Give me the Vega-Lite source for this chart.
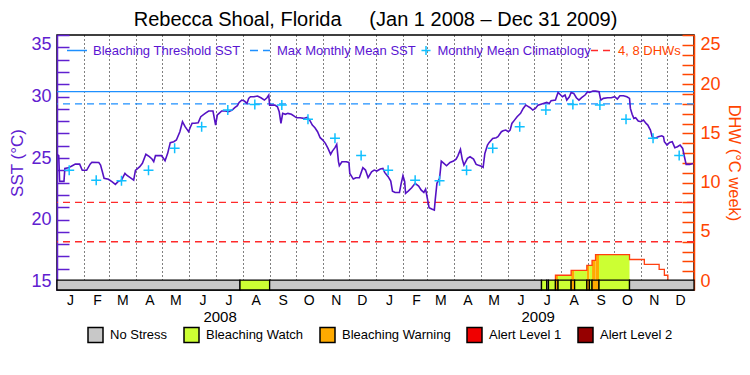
{
  "$schema": "https://vega.github.io/schema/vega-lite/v6.json",
  "width": 637,
  "height": 255,
  "autosize": {"type": "none"},
  "padding": {"left": 57, "top": 35, "right": 56, "bottom": 85},
  "background": "white",
  "config": {
    "font": "Liberation Sans",
    "view": {"stroke": "black", "strokeWidth": 1.5},
    "axis": {"labelFont": "Liberation Sans", "titleFont": "Liberation Sans"},
    "legend": {"labelFont": "Liberation Sans"}
  },
  "title": {
    "text": "Rebecca Shoal, Florida\u00a0\u00a0\u00a0\u00a0\u00a0(Jan 1 2008 – Dec 31 2009)",
    "fontSize": 20,
    "fontWeight": "normal",
    "color": "black",
    "offset": 4,
    "anchor": "middle",
    "frame": "group"
  },
  "datasets": {
    "sst": [
      {"date": "2008-01-01", "sst": 25.3}, {"date": "2008-01-03", "sst": 25.2}, {"date": "2008-01-04", "sst": 23.1},
      {"date": "2008-01-09", "sst": 23.1}, {"date": "2008-01-10", "sst": 24.16}, {"date": "2008-01-14", "sst": 24.2},
      {"date": "2008-01-18", "sst": 24.35}, {"date": "2008-01-22", "sst": 24.5}, {"date": "2008-01-27", "sst": 24.5},
      {"date": "2008-01-30", "sst": 24.0}, {"date": "2008-02-04", "sst": 24.0}, {"date": "2008-02-08", "sst": 24.5},
      {"date": "2008-02-10", "sst": 24.65}, {"date": "2008-02-18", "sst": 24.63}, {"date": "2008-02-20", "sst": 24.43},
      {"date": "2008-02-22", "sst": 23.9}, {"date": "2008-02-24", "sst": 23.35}, {"date": "2008-02-29", "sst": 23.27},
      {"date": "2008-03-04", "sst": 23.08}, {"date": "2008-03-08", "sst": 22.86}, {"date": "2008-03-11", "sst": 23.08},
      {"date": "2008-03-15", "sst": 23.2}, {"date": "2008-03-19", "sst": 23.75}, {"date": "2008-03-21", "sst": 23.6},
      {"date": "2008-03-25", "sst": 23.4}, {"date": "2008-03-29", "sst": 23.2}, {"date": "2008-03-31", "sst": 24.0},
      {"date": "2008-04-05", "sst": 24.3}, {"date": "2008-04-08", "sst": 24.57}, {"date": "2008-04-12", "sst": 25.3},
      {"date": "2008-04-16", "sst": 25.11}, {"date": "2008-04-19", "sst": 24.92}, {"date": "2008-04-21", "sst": 24.7},
      {"date": "2008-04-23", "sst": 25.19}, {"date": "2008-04-30", "sst": 25.19}, {"date": "2008-05-04", "sst": 24.78},
      {"date": "2008-05-07", "sst": 25.38}, {"date": "2008-05-10", "sst": 26.25}, {"date": "2008-05-14", "sst": 26.33},
      {"date": "2008-05-17", "sst": 26.46}, {"date": "2008-05-21", "sst": 27.14}, {"date": "2008-05-24", "sst": 27.95},
      {"date": "2008-05-27", "sst": 27.55}, {"date": "2008-05-31", "sst": 27.14}, {"date": "2008-06-02", "sst": 27.5},
      {"date": "2008-06-04", "sst": 27.82}, {"date": "2008-06-07", "sst": 27.82}, {"date": "2008-06-11", "sst": 27.87},
      {"date": "2008-06-14", "sst": 28.36}, {"date": "2008-06-19", "sst": 28.63}, {"date": "2008-06-23", "sst": 28.82},
      {"date": "2008-06-28", "sst": 28.82}, {"date": "2008-07-01", "sst": 27.68}, {"date": "2008-07-03", "sst": 28.5},
      {"date": "2008-07-05", "sst": 28.63}, {"date": "2008-07-08", "sst": 28.82}, {"date": "2008-07-12", "sst": 28.82},
      {"date": "2008-07-16", "sst": 28.76}, {"date": "2008-07-20", "sst": 28.9}, {"date": "2008-07-23", "sst": 29.09},
      {"date": "2008-07-26", "sst": 29.25}, {"date": "2008-07-28", "sst": 29.52}, {"date": "2008-07-31", "sst": 29.71},
      {"date": "2008-08-03", "sst": 29.63}, {"date": "2008-08-06", "sst": 29.44}, {"date": "2008-08-08", "sst": 29.85},
      {"date": "2008-08-10", "sst": 29.98}, {"date": "2008-08-14", "sst": 29.98}, {"date": "2008-08-18", "sst": 30.04},
      {"date": "2008-08-22", "sst": 29.9}, {"date": "2008-08-26", "sst": 29.71}, {"date": "2008-08-29", "sst": 29.9},
      {"date": "2008-08-31", "sst": 30.12}, {"date": "2008-09-01", "sst": 29.3}, {"date": "2008-09-07", "sst": 29.3},
      {"date": "2008-09-10", "sst": 29.17}, {"date": "2008-09-12", "sst": 28.76}, {"date": "2008-09-14", "sst": 27.81},
      {"date": "2008-09-16", "sst": 28.63}, {"date": "2008-09-19", "sst": 28.55}, {"date": "2008-09-22", "sst": 28.63},
      {"date": "2008-09-26", "sst": 28.55}, {"date": "2008-09-30", "sst": 28.36}, {"date": "2008-10-02", "sst": 28.27},
      {"date": "2008-10-06", "sst": 28.27}, {"date": "2008-10-10", "sst": 28.22}, {"date": "2008-10-14", "sst": 28.3},
      {"date": "2008-10-17", "sst": 28.08}, {"date": "2008-10-20", "sst": 27.68}, {"date": "2008-10-23", "sst": 27.46},
      {"date": "2008-10-26", "sst": 27.14}, {"date": "2008-10-29", "sst": 26.65}, {"date": "2008-11-01", "sst": 26.46},
      {"date": "2008-11-04", "sst": 26.19}, {"date": "2008-11-07", "sst": 25.78}, {"date": "2008-11-10", "sst": 25.29},
      {"date": "2008-11-12", "sst": 25.56}, {"date": "2008-11-15", "sst": 25.84}, {"date": "2008-11-17", "sst": 26.11},
      {"date": "2008-11-19", "sst": 24.7}, {"date": "2008-11-20", "sst": 24.37}, {"date": "2008-11-23", "sst": 24.7},
      {"date": "2008-11-28", "sst": 24.7}, {"date": "2008-12-01", "sst": 24.64}, {"date": "2008-12-02", "sst": 23.75},
      {"date": "2008-12-06", "sst": 23.29}, {"date": "2008-12-09", "sst": 23.4}, {"date": "2008-12-13", "sst": 23.4},
      {"date": "2008-12-17", "sst": 24.21}, {"date": "2008-12-20", "sst": 24.02}, {"date": "2008-12-23", "sst": 23.4},
      {"date": "2008-12-27", "sst": 23.88}, {"date": "2008-12-30", "sst": 24.02}, {"date": "2009-01-02", "sst": 23.94},
      {"date": "2009-01-06", "sst": 24.1}, {"date": "2009-01-09", "sst": 24.15}, {"date": "2009-01-11", "sst": 23.83},
      {"date": "2009-01-15", "sst": 23.48}, {"date": "2009-01-18", "sst": 23.13}, {"date": "2009-01-20", "sst": 22.31},
      {"date": "2009-01-23", "sst": 22.2}, {"date": "2009-01-28", "sst": 22.2}, {"date": "2009-01-30", "sst": 22.94},
      {"date": "2009-02-01", "sst": 23.56}, {"date": "2009-02-03", "sst": 23.07}, {"date": "2009-02-04", "sst": 22.12},
      {"date": "2009-02-07", "sst": 22.31}, {"date": "2009-02-11", "sst": 22.58}, {"date": "2009-02-15", "sst": 22.94},
      {"date": "2009-02-19", "sst": 22.72}, {"date": "2009-02-22", "sst": 22.39}, {"date": "2009-02-25", "sst": 22.2},
      {"date": "2009-02-27", "sst": 22.47}, {"date": "2009-03-01", "sst": 21.72}, {"date": "2009-03-03", "sst": 20.96},
      {"date": "2009-03-06", "sst": 20.85}, {"date": "2009-03-09", "sst": 20.77}, {"date": "2009-03-10", "sst": 21.58},
      {"date": "2009-03-12", "sst": 22.94}, {"date": "2009-03-15", "sst": 23.34}, {"date": "2009-03-16", "sst": 24.02},
      {"date": "2009-03-17", "sst": 24.75}, {"date": "2009-03-20", "sst": 24.56}, {"date": "2009-03-23", "sst": 24.37},
      {"date": "2009-03-27", "sst": 24.64}, {"date": "2009-03-31", "sst": 24.75}, {"date": "2009-04-03", "sst": 24.91},
      {"date": "2009-04-05", "sst": 25.18}, {"date": "2009-04-08", "sst": 25.7}, {"date": "2009-04-10", "sst": 24.91},
      {"date": "2009-04-12", "sst": 24.43}, {"date": "2009-04-16", "sst": 24.97}, {"date": "2009-04-19", "sst": 25.1},
      {"date": "2009-04-23", "sst": 24.91}, {"date": "2009-04-26", "sst": 24.48}, {"date": "2009-04-28", "sst": 24.43},
      {"date": "2009-05-02", "sst": 24.34}, {"date": "2009-05-04", "sst": 24.24}, {"date": "2009-05-06", "sst": 25.37},
      {"date": "2009-05-09", "sst": 26.05}, {"date": "2009-05-11", "sst": 26.27}, {"date": "2009-05-15", "sst": 26.59},
      {"date": "2009-05-19", "sst": 26.65}, {"date": "2009-05-21", "sst": 26.73}, {"date": "2009-05-25", "sst": 27.14},
      {"date": "2009-05-27", "sst": 27.22}, {"date": "2009-05-30", "sst": 27.27}, {"date": "2009-06-02", "sst": 27.14},
      {"date": "2009-06-04", "sst": 27.27}, {"date": "2009-06-06", "sst": 27.81}, {"date": "2009-06-09", "sst": 28.08},
      {"date": "2009-06-12", "sst": 28.36}, {"date": "2009-06-16", "sst": 28.63}, {"date": "2009-06-19", "sst": 29.03},
      {"date": "2009-06-22", "sst": 29.3}, {"date": "2009-06-24", "sst": 29.22}, {"date": "2009-06-27", "sst": 29.09},
      {"date": "2009-06-30", "sst": 28.9}, {"date": "2009-07-03", "sst": 29.03}, {"date": "2009-07-06", "sst": 29.3},
      {"date": "2009-07-12", "sst": 29.44}, {"date": "2009-07-16", "sst": 29.52}, {"date": "2009-07-19", "sst": 29.44},
      {"date": "2009-07-21", "sst": 29.66}, {"date": "2009-07-26", "sst": 29.71}, {"date": "2009-07-29", "sst": 30.33},
      {"date": "2009-08-01", "sst": 30.12}, {"date": "2009-08-03", "sst": 29.98}, {"date": "2009-08-06", "sst": 30.12},
      {"date": "2009-08-08", "sst": 29.71}, {"date": "2009-08-11", "sst": 29.98}, {"date": "2009-08-13", "sst": 30.33},
      {"date": "2009-08-16", "sst": 30.25}, {"date": "2009-08-19", "sst": 29.9}, {"date": "2009-08-22", "sst": 29.71},
      {"date": "2009-08-25", "sst": 29.9}, {"date": "2009-08-29", "sst": 30.12}, {"date": "2009-09-01", "sst": 30.39},
      {"date": "2009-09-03", "sst": 30.33}, {"date": "2009-09-07", "sst": 30.44}, {"date": "2009-09-10", "sst": 30.44},
      {"date": "2009-09-14", "sst": 30.39}, {"date": "2009-09-16", "sst": 29.71}, {"date": "2009-09-19", "sst": 29.85},
      {"date": "2009-09-24", "sst": 29.9}, {"date": "2009-09-28", "sst": 29.9}, {"date": "2009-10-02", "sst": 29.98},
      {"date": "2009-10-05", "sst": 29.79}, {"date": "2009-10-08", "sst": 30.06}, {"date": "2009-10-12", "sst": 30.06},
      {"date": "2009-10-16", "sst": 29.98}, {"date": "2009-10-19", "sst": 29.85}, {"date": "2009-10-20", "sst": 29.03},
      {"date": "2009-10-22", "sst": 28.55}, {"date": "2009-10-24", "sst": 28.22}, {"date": "2009-10-26", "sst": 28.27},
      {"date": "2009-10-29", "sst": 28.0}, {"date": "2009-11-01", "sst": 27.95}, {"date": "2009-11-04", "sst": 28.08},
      {"date": "2009-11-07", "sst": 27.81}, {"date": "2009-11-09", "sst": 27.68}, {"date": "2009-11-12", "sst": 27.27},
      {"date": "2009-11-14", "sst": 26.73}, {"date": "2009-11-17", "sst": 26.59}, {"date": "2009-11-21", "sst": 26.73},
      {"date": "2009-11-25", "sst": 26.81}, {"date": "2009-11-27", "sst": 26.73}, {"date": "2009-11-28", "sst": 26.32},
      {"date": "2009-12-01", "sst": 26.05}, {"date": "2009-12-04", "sst": 26.27}, {"date": "2009-12-07", "sst": 26.32},
      {"date": "2009-12-10", "sst": 25.84}, {"date": "2009-12-13", "sst": 25.92}, {"date": "2009-12-16", "sst": 26.05},
      {"date": "2009-12-19", "sst": 25.78}, {"date": "2009-12-21", "sst": 25.1}, {"date": "2009-12-23", "sst": 24.48},
      {"date": "2009-12-27", "sst": 24.48}, {"date": "2009-12-31", "sst": 24.56}
    ],
    "clim": [
      {"date": "2008-01-15", "clim": 24.0}, {"date": "2008-02-15", "clim": 23.2}, {"date": "2008-03-15", "clim": 23.15},
      {"date": "2008-04-15", "clim": 24.0}, {"date": "2008-05-15", "clim": 25.8}, {"date": "2008-06-15", "clim": 27.55},
      {"date": "2008-07-15", "clim": 28.9}, {"date": "2008-08-15", "clim": 29.35}, {"date": "2008-09-15", "clim": 29.3},
      {"date": "2008-10-15", "clim": 28.15}, {"date": "2008-11-15", "clim": 26.6}, {"date": "2008-12-15", "clim": 25.2},
      {"date": "2009-01-15", "clim": 24.0}, {"date": "2009-02-15", "clim": 23.2}, {"date": "2009-03-15", "clim": 23.15},
      {"date": "2009-04-15", "clim": 24.0}, {"date": "2009-05-15", "clim": 25.8}, {"date": "2009-06-15", "clim": 27.55},
      {"date": "2009-07-15", "clim": 28.9}, {"date": "2009-08-15", "clim": 29.35}, {"date": "2009-09-15", "clim": 29.3},
      {"date": "2009-10-15", "clim": 28.15}, {"date": "2009-11-15", "clim": 26.6}, {"date": "2009-12-15", "clim": 25.2}
    ],
    "refs_sst": [
      {"name": "Bleaching Threshold SST", "sst": 30.4},
      {"name": "Max Monthly Mean SST", "sst": 29.4}
    ],
    "refs_dhw": [
      {"name": "4, 8 DHWs", "dhw": 4},
      {"name": "4, 8 DHWs", "dhw": 8}
    ],
    "stress": [
      {"start": "2008-01-01", "end": "2008-07-29", "level": "No Stress"},
      {"start": "2008-07-29", "end": "2008-09-01", "level": "Bleaching Watch"},
      {"start": "2008-09-01", "end": "2009-07-10", "level": "No Stress"},
      {"start": "2009-07-10", "end": "2009-07-16", "level": "Bleaching Watch"},
      {"start": "2009-07-16", "end": "2009-07-18", "level": "No Stress"},
      {"start": "2009-07-18", "end": "2009-07-26", "level": "Bleaching Watch"},
      {"start": "2009-07-26", "end": "2009-07-29", "level": "Bleaching Warning"},
      {"start": "2009-07-29", "end": "2009-08-13", "level": "Bleaching Watch"},
      {"start": "2009-08-13", "end": "2009-08-17", "level": "Bleaching Warning"},
      {"start": "2009-08-17", "end": "2009-08-31", "level": "Bleaching Watch"},
      {"start": "2009-08-31", "end": "2009-09-03", "level": "Bleaching Warning"},
      {"start": "2009-09-03", "end": "2009-09-06", "level": "Bleaching Watch"},
      {"start": "2009-09-06", "end": "2009-09-14", "level": "Bleaching Warning"},
      {"start": "2009-09-14", "end": "2009-10-19", "level": "Bleaching Watch"},
      {"start": "2009-10-19", "end": "2010-01-01", "level": "No Stress"}
    ],
    "dhw": [
      {"date": "2009-07-01", "dhw": 0},
      {"date": "2009-07-26", "dhw": 0.6},
      {"date": "2009-08-13", "dhw": 1.1},
      {"date": "2009-08-31", "dhw": 1.6},
      {"date": "2009-09-06", "dhw": 2.1},
      {"date": "2009-09-10", "dhw": 2.7},
      {"date": "2009-10-19", "dhw": 2.2},
      {"date": "2009-11-05", "dhw": 1.7},
      {"date": "2009-11-22", "dhw": 1.2},
      {"date": "2009-11-28", "dhw": 0.6},
      {"date": "2009-12-02", "dhw": 0},
      {"date": "2009-12-31", "dhw": 0}
    ],
    "fill": [
      {"start": "2009-07-26", "end": "2009-07-29", "level": "Bleaching Warning", "dhw": 0.6},
      {"start": "2009-07-29", "end": "2009-08-13", "level": "Bleaching Watch", "dhw": 0.6},
      {"start": "2009-08-13", "end": "2009-08-17", "level": "Bleaching Warning", "dhw": 1.1},
      {"start": "2009-08-17", "end": "2009-08-31", "level": "Bleaching Watch", "dhw": 1.1},
      {"start": "2009-08-31", "end": "2009-09-03", "level": "Bleaching Warning", "dhw": 1.6},
      {"start": "2009-09-03", "end": "2009-09-06", "level": "Bleaching Watch", "dhw": 1.6},
      {"start": "2009-09-06", "end": "2009-09-10", "level": "Bleaching Warning", "dhw": 2.1},
      {"start": "2009-09-10", "end": "2009-09-14", "level": "Bleaching Warning", "dhw": 2.7},
      {"start": "2009-09-14", "end": "2009-10-19", "level": "Bleaching Watch", "dhw": 2.7}
    ]
  },
  "layer": [
    {
      "data": {"name": "fill"},
      "mark": {"type": "rect", "strokeWidth": 0},
      "encoding": {
        "x": {"field": "start", "type": "temporal", "scale": {"type": "utc", "domain": [{"year": 2008, "month": 1, "date": 1, "utc": true}, {"year": 2010, "month": 1, "date": 1, "utc": true}]},
          "axis": {"orient": "bottom", "values": [{"year": 2008, "month": 7, "date": 1, "utc": true}, {"year": 2009, "month": 7, "date": 1, "utc": true}],
            "labelExpr": "utcFormat(datum.value, '%Y')", "ticks": false, "domain": false, "grid": false, "labelFlush": false, "labelOverlap": false,
            "labelFontSize": 15, "labelColor": "black", "labelPadding": 19, "labelOffset": 4, "title": null}},
        "x2": {"field": "end"},
        "y": {"field": "dhw", "type": "quantitative", "scale": {"domain": [-0.9, 25], "nice": false, "zero": false},
          "axis": {"orient": "right", "values": [0,1,2,3,4,5,6,7,8,9,10,11,12,13,14,15,16,17,18,19,20,21,22,23,24,25],
            "labelExpr": "datum.value % 5 === 0 ? datum.label : ''", "tickSize": -12, "tickColor": "#FF4500", "tickWidth": 1.5,
            "domainColor": "#FF4500", "domainWidth": 1.5, "labelColor": "#FF4500", "labelFontSize": 18, "labelPadding": 18,
            "labelFlush": 1, "labelOverlap": false, "grid": false,
            "title": "DHW (°C week)", "titleColor": "#FF4500", "titleFontSize": 16.5, "titleFontWeight": "normal", "titleAngle": 90, "titlePadding": 5}},
        "y2": {"datum": 0},
        "fill": {"field": "level", "type": "nominal",
          "scale": {"domain": ["No Stress", "Bleaching Watch", "Bleaching Warning", "Alert Level 1", "Alert Level 2"], "range": ["#C8C8C8", "#CCFF33", "#FFAA00", "#F00000", "#960000"]},
          "legend": {"orient": "none", "legendX": 30, "legendY": 291.5, "direction": "horizontal", "title": null,
            "symbolType": "square", "symbolSize": 225, "symbolStrokeColor": "black", "symbolStrokeWidth": 1.5, "symbolOpacity": 1,
            "labelFontSize": 13, "labelColor": "black", "labelOffset": 6, "columnPadding": 13}}
      }
    },
    {
      "data": {"name": "dhw"},
      "mark": {"type": "line", "interpolate": "step-after", "color": "#FF4010", "strokeWidth": 1.3},
      "encoding": {
        "x": {"field": "date", "type": "temporal", "axis": null},
        "y": {"field": "dhw", "type": "quantitative", "scale": {"domain": [-0.9, 25], "nice": false, "zero": false}, "axis": null}
      }
    },
    {
      "data": {"name": "refs_dhw"},
      "mark": {"type": "rule", "color": "#FF2A2A", "strokeWidth": 1.3},
      "encoding": {
        "y": {"field": "dhw", "type": "quantitative", "scale": {"domain": [-0.9, 25], "nice": false, "zero": false}, "axis": null},
        "strokeDash": {"field": "name", "type": "nominal", "scale": {"domain": ["4, 8 DHWs"], "range": [[7, 5]]},
          "legend": {"orient": "none", "legendX": 533, "legendY": 4.5, "title": null, "symbolType": "stroke", "symbolSize": 400,
            "symbolStrokeColor": "#FF2A2A", "symbolStrokeWidth": 1.5, "symbolDash": [8, 5],
            "labelColor": "#FF4500", "labelFontSize": 13, "labelOffset": 6}}
      }
    },
    {
      "data": {"name": "refs_sst"},
      "transform": [{"filter": "datum.name === 'Bleaching Threshold SST'"}],
      "mark": {"type": "rule", "strokeWidth": 1.3},
      "encoding": {
        "y": {"field": "sst", "type": "quantitative", "scale": {"domain": [14.27, 35], "nice": false, "zero": false}, "axis": null},
        "stroke": {"field": "name", "type": "nominal", "scale": {"domain": ["Bleaching Threshold SST"], "range": ["#1E90FF"]},
          "legend": {"orient": "none", "legendX": 9, "legendY": 4.5, "title": null, "symbolType": "stroke", "symbolSize": 400,
            "symbolStrokeWidth": 1.5, "labelColor": "#5A14D2", "labelFontSize": 13, "labelOffset": 5}}
      }
    },
    {
      "data": {"name": "refs_sst"},
      "transform": [{"filter": "datum.name === 'Max Monthly Mean SST'"}],
      "mark": {"type": "rule", "strokeWidth": 1.3, "strokeDash": [7, 5]},
      "encoding": {
        "y": {"field": "sst", "type": "quantitative", "scale": {"domain": [14.27, 35], "nice": false, "zero": false}, "axis": null},
        "color": {"field": "name", "type": "nominal", "scale": {"domain": ["Max Monthly Mean SST"], "range": ["#1E90FF"]},
          "legend": {"orient": "none", "legendX": 192, "legendY": 4.5, "title": null, "symbolType": "stroke", "symbolSize": 400,
            "symbolStrokeWidth": 1.5, "symbolDash": [8, 5], "labelColor": "#5A14D2", "labelFontSize": 13, "labelOffset": 6}}
      }
    },
    {
      "data": {"name": "sst"},
      "mark": {"type": "line", "color": "#5512C4", "strokeWidth": 1.6},
      "encoding": {
        "x": {"field": "date", "type": "temporal", "axis": null},
        "y": {"field": "sst", "type": "quantitative", "scale": {"domain": [14.27, 35], "nice": false, "zero": false},
          "axis": {"orient": "left", "values": [15,16,17,18,19,20,21,22,23,24,25,26,27,28,29,30,31,32,33,34,35],
            "labelExpr": "datum.value % 5 === 0 ? datum.label : ''", "tickSize": -12, "tickColor": "#6020D0", "tickWidth": 1.5,
            "domainColor": "#6020D0", "domainWidth": 1.5, "labelColor": "#6020D0", "labelFontSize": 18, "labelPadding": 18,
            "labelFlush": 1, "labelOverlap": false, "grid": false,
            "title": "SST (°C)", "titleColor": "#6020D0", "titleFontSize": 17, "titleFontWeight": "normal", "titlePadding": 4}}
      }
    },
    {
      "data": {"name": "clim"},
      "mark": {"type": "point", "filled": false, "size": 100, "color": "#10C0FF", "strokeWidth": 1.5, "opacity": 1},
      "encoding": {
        "x": {"field": "date", "type": "temporal", "axis": null},
        "y": {"field": "clim", "type": "quantitative", "scale": {"domain": [14.27, 35], "nice": false, "zero": false}, "axis": null},
        "shape": {"datum": "Monthly Mean Climatology", "scale": {"domain": ["Monthly Mean Climatology"], "range": ["M-1,0H1M0,-1V1"]},
          "legend": {"orient": "none", "legendX": 362.5, "legendY": 9, "title": null, "symbolSize": 81,
            "symbolStrokeColor": "#10C0FF", "symbolFillColor": "transparent", "symbolStrokeWidth": 1.5,
            "labelColor": "#5A14D2", "labelFontSize": 13, "labelOffset": 5}}
      }
    },
    {
      "data": {"name": "stress"},
      "mark": {"type": "rect", "stroke": "black", "strokeWidth": 1.3},
      "encoding": {
        "x": {"field": "start", "type": "temporal",
          "axis": {"orient": "bottom", "values": [
            {"year": 2008, "month": 1, "date": 1, "utc": true}, {"year": 2008, "month": 2, "date": 1, "utc": true}, {"year": 2008, "month": 3, "date": 1, "utc": true},
            {"year": 2008, "month": 4, "date": 1, "utc": true}, {"year": 2008, "month": 5, "date": 1, "utc": true}, {"year": 2008, "month": 6, "date": 1, "utc": true},
            {"year": 2008, "month": 7, "date": 1, "utc": true}, {"year": 2008, "month": 8, "date": 1, "utc": true}, {"year": 2008, "month": 9, "date": 1, "utc": true},
            {"year": 2008, "month": 10, "date": 1, "utc": true}, {"year": 2008, "month": 11, "date": 1, "utc": true}, {"year": 2008, "month": 12, "date": 1, "utc": true},
            {"year": 2009, "month": 1, "date": 1, "utc": true}, {"year": 2009, "month": 2, "date": 1, "utc": true}, {"year": 2009, "month": 3, "date": 1, "utc": true},
            {"year": 2009, "month": 4, "date": 1, "utc": true}, {"year": 2009, "month": 5, "date": 1, "utc": true}, {"year": 2009, "month": 6, "date": 1, "utc": true},
            {"year": 2009, "month": 7, "date": 1, "utc": true}, {"year": 2009, "month": 8, "date": 1, "utc": true}, {"year": 2009, "month": 9, "date": 1, "utc": true},
            {"year": 2009, "month": 10, "date": 1, "utc": true}, {"year": 2009, "month": 11, "date": 1, "utc": true}, {"year": 2009, "month": 12, "date": 1, "utc": true}],
            "labelExpr": "slice(utcFormat(datum.value, '%b'), 0, 1)", "ticks": false, "domain": false,
            "grid": true, "gridColor": "black", "gridDash": [1, 3], "gridWidth": 1, "gridOpacity": 1,
            "labelFlush": false, "labelOverlap": false, "labelBound": false,
            "labelFontSize": 14, "labelColor": "black", "labelPadding": 3, "labelOffset": 13, "title": null}},
        "x2": {"field": "end"},
        "y": {"datum": 15.08, "type": "quantitative", "scale": {"domain": [14.27, 35], "nice": false, "zero": false}, "axis": null},
        "y2": {"datum": 14.27},
        "fill": {"field": "level", "type": "nominal"}
      }
    }
  ],
  "resolve": {"scale": {"y": "independent"}, "axis": {"x": "independent", "y": "independent"}}
}
